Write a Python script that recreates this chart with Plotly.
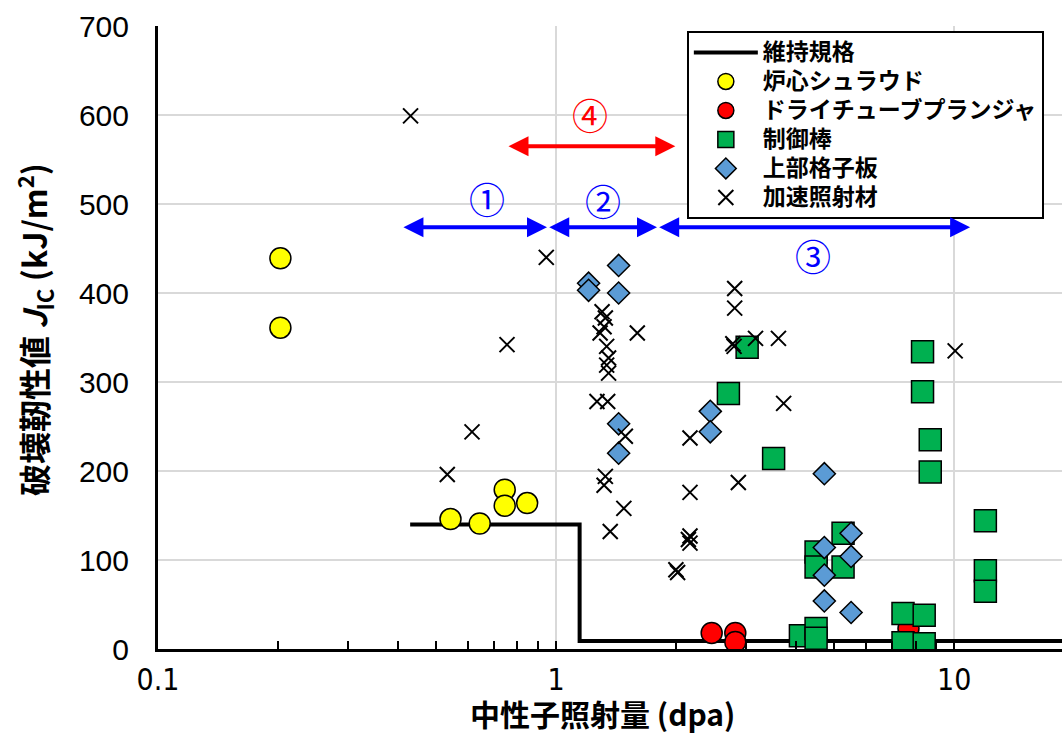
import numpy as np
import plotly.graph_objects as go

# ---------------- data ----------------
std_x = [0.43, 1.146, 1.146, 20]
std_y = [140, 140, 9, 9]

shroud_x = [0.203, 0.203, 0.543, 0.643, 0.743, 0.743, 0.846]
shroud_y = [439, 361, 146, 141, 179, 161, 164]

plunger_x = [2.46, 2.82, 2.82, 7.68]
plunger_y = [18, 18, 8, 23]

rod_x = [3.02, 2.71, 3.52, 8.33, 8.33, 8.71, 8.71, 11.98, 11.98, 11.98,
         5.26, 4.50, 4.50, 5.26, 7.44, 8.41, 7.44, 8.41, 4.11, 4.50, 4.50]
rod_y = [339, 287, 214, 334, 289, 235, 199, 144, 88, 65,
         130, 109, 92, 92, 40, 38, 7, 6, 15, 23, 12]

grid_x = [1.436, 1.207, 1.207, 1.436, 1.436, 1.436, 2.44, 2.44,
          4.72, 5.51, 4.72, 5.51, 4.72, 4.72, 5.51]
grid_y = [431, 411, 403, 400, 253, 220, 267, 244,
          197, 130, 114, 104, 83, 54, 41]

accel_x = [0.431, 0.945, 0.753, 0.615, 0.533,
           1.305, 1.33, 1.32, 1.29, 1.60, 1.34, 1.355, 1.34, 1.355, 1.267, 1.348,
           1.493, 1.33, 1.32, 1.48, 1.368,
           2.81, 2.81, 2.78, 2.80, 3.17, 3.62, 3.73, 2.17, 2.87, 2.17, 2.17, 2.15,
           2.17, 2.00, 2.02, 10.06]
accel_y = [599, 440, 342, 244, 196,
           379, 372, 362, 355, 355, 340, 327, 319, 310, 278, 278,
           239, 194, 184, 158, 132,
           405, 383, 343, 340, 349, 349, 276, 237, 187, 176, 127, 123,
           119, 89, 86, 335]

# range arrows
arrow_start = [0.410, 0.953, 1.80, 0.753]
arrow_end = [0.949, 1.793, 10.97, 1.993]
arrow_y = [474, 474, 474, 565]
arrow_labels = ["①", "②", "③", "④"]
label_x = [0.672, 1.315, 4.43, 1.219]
label_y = [507, 504, 443, 601]
arrow_colors = ["#0000FF", "#0000FF", "#0000FF", "#FF0000"]

x_ticks = [0.1, 1, 10]
x_ticktext = ["0.1", "1", "10"]

# ---------------- figure ----------------
JP = "Noto Sans CJK JP"
fig = go.Figure()


def lg(name):
    return '<span style="font-size:23px">' + name + '</span>'


fig.add_trace(go.Scatter(x=std_x, y=std_y, mode="lines", name=lg("維持規格"),
                         line=dict(color="black", width=4)))
fig.add_trace(go.Scatter(x=shroud_x, y=shroud_y, mode="markers", name=lg("炉心シュラウド"),
                         marker=dict(symbol="circle", size=21, color="#FFFF00",
                                     line=dict(color="black", width=1.5))))
fig.add_trace(go.Scatter(x=plunger_x, y=plunger_y, mode="markers", name=lg("ドライチューブプランジャ"),
                         marker=dict(symbol="circle", size=21, color="#FF0000",
                                     line=dict(color="black", width=1.5))))
fig.add_trace(go.Scatter(x=rod_x, y=rod_y, mode="markers", name=lg("制御棒"),
                         marker=dict(symbol="square", size=22, color="#00B050",
                                     line=dict(color="black", width=1.5))))
fig.add_trace(go.Scatter(x=grid_x, y=grid_y, mode="markers", name=lg("上部格子板"),
                         marker=dict(symbol="diamond", size=17, color="#5B9BD5",
                                     line=dict(color="black", width=1.5))))
fig.add_trace(go.Scatter(x=accel_x, y=accel_y, mode="markers", name=lg("加速照射材"),
                         marker=dict(symbol="x-thin-open", size=15, color="black",
                                     line=dict(color="black", width=2))))

annotations = []
for xs, xe, ya, col in zip(arrow_start, arrow_end, arrow_y, arrow_colors):
    annotations.append(dict(x=np.log10(xe), y=ya, ax=np.log10(xs), ay=ya,
                            xref="x", yref="y", axref="x", ayref="y",
                            text="", showarrow=True, arrowhead=2, arrowside="end+start",
                            arrowsize=1, arrowwidth=4, arrowcolor=col,
                            startarrowhead=2, startarrowsize=1))
for lab, lx, ly, col in zip(arrow_labels, label_x, label_y, arrow_colors):
    annotations.append(dict(x=np.log10(lx), y=ly, xref="x", yref="y", text=lab,
                            showarrow=False, font=dict(family=JP, size=36, color=col)))

# axis titles
annotations.append(dict(x=(602 - 158) / 904, y=(649 - 713) / 623, xref="paper", yref="paper",
                        text="<b>中性子照射量 (dpa)</b>", showarrow=False,
                        xanchor="center", yanchor="middle",
                        font=dict(family=JP, size=30, color="black")))
annotations.append(dict(x=(34 - 158) / 904, y=(649 - 330) / 623, xref="paper", yref="paper",
                        text="<b>破壊靭性値 <i>J</i><sub>IC</sub> (kJ/m<sup>2</sup>)</b>",
                        showarrow=False, textangle=-90,
                        xanchor="center", yanchor="middle",
                        font=dict(family=JP, size=32, color="black")))

fig.update_layout(
    width=1062, height=737,
    margin=dict(l=158, r=0, t=26, b=88),
    paper_bgcolor="white", plot_bgcolor="white",
    showlegend=True,
    legend=dict(x=0.585, y=0.992, xanchor="left", yanchor="top",
                bgcolor="white", bordercolor="black", borderwidth=2,
                font=dict(family=JP, size=20, color="black", weight="bold"),
                tracegroupgap=0, itemsizing="trace", itemwidth=64),
    annotations=annotations,
    font=dict(family="Liberation Sans, Arial, sans-serif", color="black"),
)

fig.update_xaxes(type="log", range=[-1.0, 1.271],
                 tickvals=x_ticks, ticktext=x_ticktext,
                 tickfont=dict(family="Liberation Sans Narrow, DejaVu Sans Condensed, Liberation Sans, Arial",
                               size=30),
                 showline=True, linecolor="black", linewidth=3,
                 showgrid=True, gridcolor="#D9D9D9", gridwidth=2,
                 ticks="inside", ticklen=8, tickcolor="black", tickwidth=1.5,
                 minor=dict(ticks="inside", ticklen=8, tickcolor="black", tickwidth=1.5,
                            dtick="D1", showgrid=False),
                 zeroline=False, ticklabelstandoff=2)
fig.update_yaxes(range=[0, 700], dtick=100,
                 tickfont=dict(family="Liberation Sans, Arial", size=30),
                 showline=True, linecolor="black", linewidth=3,
                 showgrid=True, gridcolor="#D9D9D9", gridwidth=2,
                 ticks="", zeroline=False, ticklabelstandoff=20)

fig.write_html("out.html",
               config={"displayModeBar": False},
               post_script="document.body.style.margin='0';document.body.style.padding='0';")
